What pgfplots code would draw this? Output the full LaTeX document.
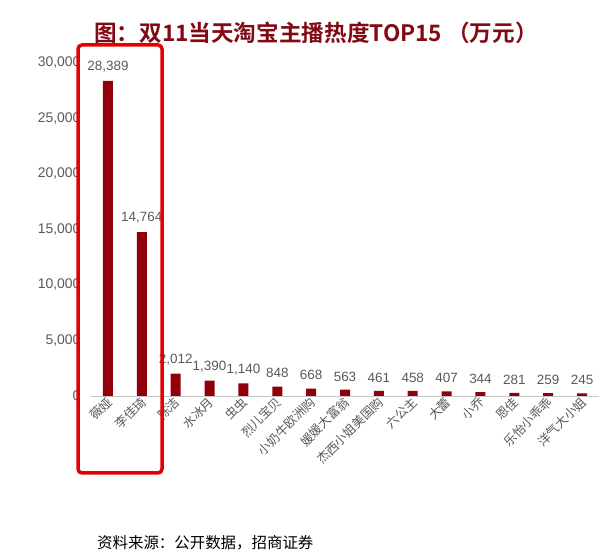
\documentclass[border=0pt]{standalone}
\usepackage{fontspec}
\setmainfont{Liberation Sans}
\newfontfamily\cjk{Noto Sans CJK SC}
\newfontfamily\cjkbold{Noto Sans CJK SC Bold}
\usepackage{pgfplots}
\pgfplotsset{compat=1.18}

\definecolor{barred}{RGB}{145,0,10}
\definecolor{titlered}{RGB}{130,10,20}
\definecolor{txtgray}{RGB}{89,89,89}

\begin{document}
\begin{tikzpicture}[x=1bp,y=1bp]
\useasboundingbox (0,0) rectangle (603,560);

\begin{axis}[
    at={(91bp,164bp)}, anchor=south west,
    scale only axis,
    width=508bp, height=333bp,
    xmin=-0.5, xmax=14.5,
    ymin=0, ymax=30000,
    axis x line*=bottom,
    axis y line*=left,
    x axis line style={draw=gray!45, line width=0.8pt},
    y axis line style={draw=none},
    major tick length=0pt,
    xtick=data,
    xticklabels={薇娅,李佳琦,陈洁,水冰月,虫虫,烈儿宝贝,小奶牛欧洲购,媛媛大富翁,杰西小姐美国购,六公主,大蕾,小乔,恩佳,乐怡小乖乖,洋气大小姐},
    xticklabel style={rotate=45, anchor=east, font=\cjk\fontsize{12.5}{14}\selectfont, text=txtgray, yshift=-4bp, xshift=2bp},
    ytick={0,5000,...,30000},
    scaled y ticks=false,
    yticklabel style={font=\fontsize{14}{16}\selectfont, text=txtgray, xshift=-7bp,
        /pgf/number format/fixed},
    /pgf/number format/.cd, 1000 sep={,}, assume math mode=true,
]
\addplot[ybar, bar width=10bp, fill=barred, draw=none,
    nodes near coords,
    every node near coord/.append style={font=\fontsize{13.5}{15}\selectfont, text=txtgray, yshift=5bp},
] coordinates {
    (0,28389) (1,14764) (2,2012) (3,1390) (4,1140) (5,848) (6,668) (7,563)
    (8,461) (9,458) (10,407) (11,344) (12,281) (13,259) (14,245)
};
\end{axis}

\node[text=titlered, font=\cjkbold\fontsize{22.7}{26}\selectfont] at (316,527) {图：双11当天淘宝主播热度TOP15 （万元）};
\draw[red!90!black, line width=3.5bp, rounded corners=4bp] (78,87) rectangle (162,515);
\node[anchor=west, font=\cjk\fontsize{15.5}{18}\selectfont, inner sep=0] at (97,17) {资料来源：公开数据，招商证券};
\end{tikzpicture}
\end{document}
